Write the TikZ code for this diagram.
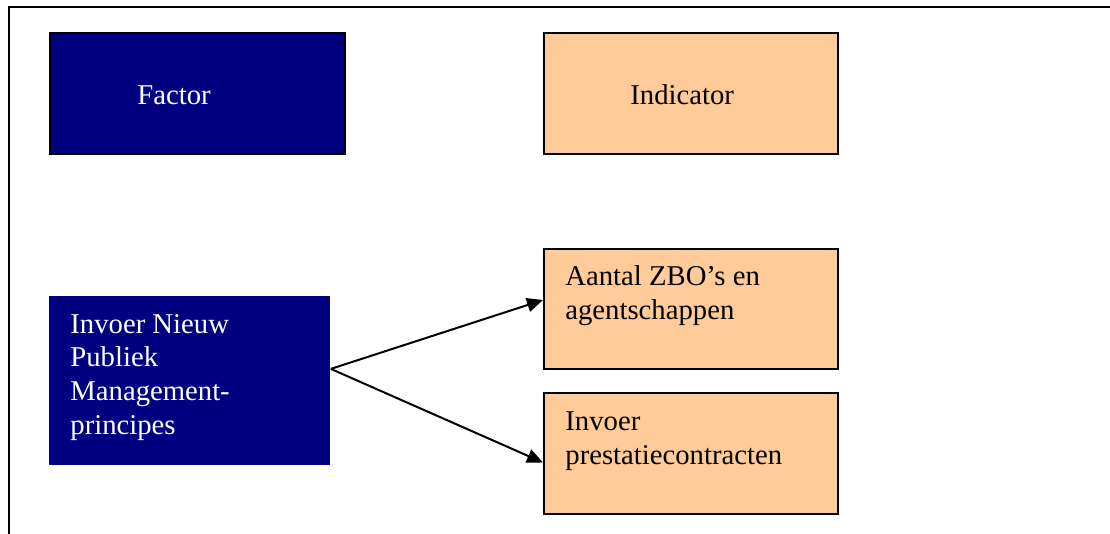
\documentclass[tikz,border=0pt]{standalone}
\usepackage{fontspec}
\setmainfont{Liberation Serif}
\usetikzlibrary{arrows.meta,positioning}
\definecolor{npmblue}{RGB}{0,0,128}
\definecolor{peach}{RGB}{255,204,153}

\begin{document}
\begin{tikzpicture}[x=0.5pt,y=-0.5pt,
    bluebox/.style={fill=npmblue,inner sep=0pt,anchor=north west},
    peachbox/.style={fill=peach,draw=black,line width=1pt,inner sep=0pt,anchor=north west},
    lbl/.style={inner sep=0pt,anchor=base west,align=left,font=\fontsize{14.35}{17}\selectfont},
    pijl/.style={line width=1pt,-{Triangle[length=8pt,width=7pt]}}]
	\useasboundingbox (0,0) rectangle (1110,534);
	\draw[line width=1pt] (8.5,534) -- (8.5,7.5) -- (1110,7.5);

	% kopjes
	\node[bluebox,draw=black,line width=1pt,minimum width=147.5pt,minimum height=60.5pt] (factor) at (49,32) {};
	\node[peachbox,minimum width=147pt,minimum height=60.5pt] (indicator) at (543,32) {};
	\node[lbl,text=white] (factortxt) at ([shift={(88,73)}]factor.north west) {Factor};
	\node[lbl] (indicatortxt) at ([shift={(87,73)}]indicator.north west) {Indicator};

	% factor en indicatoren (base = laatste regel)
	\node[bluebox,minimum width=140.5pt,minimum height=84.5pt] (npm) at (49,296) {};
	\node[peachbox,minimum width=147pt,minimum height=60pt] (aantal) at (543,248) {};
	\node[peachbox,minimum width=147pt,minimum height=60.5pt] (invoer) at (543,392) {};
	\node[lbl,text=white] (npmtxt) at ([shift={(21,139)}]npm.north west) {Invoer Nieuw\\Publiek\\Management-\\principes};
	\node[lbl] (aantaltxt) at ([shift={(22,72)}]aantal.north west) {Aantal ZBO’s en\\agentschappen};
	\node[lbl] (invoertxt) at ([shift={(22,73)}]invoer.north west) {Invoer\\prestatiecontracten};

	\coordinate (split) at ([yshift=6pt]npm.east);
	\draw[pijl] (split) -- ([yshift=4.5pt]aantal.west);
	\draw[pijl] (split) -- ([yshift=-4.5pt]invoer.west);
\end{tikzpicture}
\end{document}
